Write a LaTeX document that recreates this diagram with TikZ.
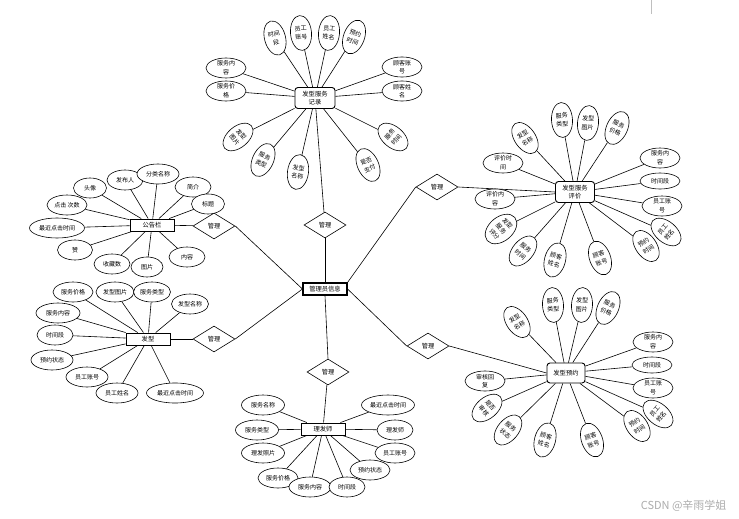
\documentclass[tikz,border=0pt]{standalone}
\usepackage{fontspec}
\setmainfont{Noto Sans CJK SC}
\usetikzlibrary{shapes.geometric,backgrounds}
\newcommand\myatt[5]{\node[#1] (#2) at (#3) {#4};
  \begin{pgfonlayer}{background}\draw[lk] (#2) -- (#5);\end{pgfonlayer}}
\begin{document}
\begin{tikzpicture}[x=1pt,y=-1pt,
  attr/.style={ellipse,draw,fill=white,line width=0.6pt,inner sep=0pt,minimum width=40pt,minimum height=20pt,align=center,font=\fontsize{6}{8.6}\selectfont},
  vatt/.style={attr,minimum width=21pt,minimum height=35pt},
  ent/.style={draw,fill=white,line width=0.9pt,minimum width=44pt,minimum height=12pt,inner sep=0pt,font=\fontsize{6.3}{8.6}\selectfont},
  rent/.style={ent,rounded corners=3pt,minimum width=40pt,minimum height=21pt,align=center},
  rel/.style={diamond,draw,fill=white,line width=0.6pt,minimum width=42pt,minimum height=26pt,inner sep=0pt,font=\fontsize{6.2}{7}\selectfont},
  lk/.style={line width=0.6pt}]
\begin{pgfonlayer}{background}
\fill[white] (0,0) rectangle (739,519);
\end{pgfonlayer}
\useasboundingbox (0,0) rectangle (739,519);
\draw[gray!50,line width=0.4pt] (651,0) -- (651,14);

% centre and relations
\node[ent,line width=1.1pt] (adm) at (325,289) {管理员信息};
\node[rel] (d1) at (325,225) {管理};
\node[rel] (d2) at (214,226) {管理};
\node[rel] (d3) at (214,339) {管理};
\node[rel] (d4) at (437,187) {管理};
\node[rel] (d5) at (428,346) {管理};
\node[rel] (d6) at (328,372) {管理};

% entities
\node[rent] (rec) at (315,98) {发型服务\\记录};
\node[rent,minimum width=39pt] (pj) at (575,192) {发型服务\\评价};
\node[ent] (gg) at (152,225) {公告栏};
\node[ent] (fx) at (148,339) {发型};
\node[ent] (lfs) at (323,429) {理发师};
\node[rent,minimum width=38pt,minimum height=20pt] (yy) at (566,373) {发型预约};

\begin{pgfonlayer}{background}
\draw[lk] (rec) -- (d1);
\draw[lk] (d1.south) -- (adm.north);
\draw[lk] (d2.east) -- (adm.west);
\draw[lk] (d2) -- (gg);
\draw[lk] (d3.east) -- (adm.west);
\draw[lk] (d3) -- (fx);
\draw[lk] (adm.north east) -- (d4.west);
\draw[lk] (d4.east) -- (pj.west);
\draw[lk] (adm.east) -- (d5.west);
\draw[lk] (d5.east) -- (yy.west);
\draw[lk] (adm.south) -- (d6.north);
\draw[lk] (d6) -- (lfs);
\end{pgfonlayer}

% top cluster
\myatt{vatt,rotate=15}{t1}{275,38}{时间\\段}{rec}
\myatt{vatt,rotate=5}{t2}{301,33}{员工\\账号}{rec}
\myatt{vatt,rotate=-5}{t3}{329,33}{员工\\姓名}{rec}
\myatt{vatt,rotate=-20}{t4}{354,37}{预约\\时间}{rec}
\myatt{attr}{t5}{226,68}{服务内\\容}{rec}
\myatt{attr}{t6}{226,91}{服务价\\格}{rec}
\myatt{attr}{t7}{402,67}{顾客账\\号}{rec}
\myatt{attr}{t8}{402,91}{顾客姓\\名}{rec}
\myatt{vatt,rotate=-50}{t9}{238,137}{发型\\图片}{rec}
\myatt{vatt,rotate=-25}{t10}{263,160}{服务\\类型}{rec}
\myatt{vatt,rotate=-8}{t11}{298,172}{发型\\名称}{rec}
\myatt{vatt,rotate=25}{t12}{368,165}{是否\\支付}{rec}
\myatt{vatt,rotate=50}{t13}{393,137}{服务\\时间}{rec}

% right top cluster
\myatt{vatt,rotate=35}{r1}{525,138}{发型\\名称}{pj}
\myatt{vatt,rotate=3}{r2}{562,120}{服务\\类型}{pj}
\myatt{vatt,rotate=-5}{r3}{588,123}{发型\\图片}{pj}
\myatt{vatt,rotate=-25}{r4}{617,128}{服务\\价格}{pj}
\myatt{attr}{r5}{503,163}{评价时\\间}{pj}
\myatt{attr}{r6}{660,158}{服务内\\容}{pj}
\myatt{attr,minimum height=16pt}{r7}{660,181}{时间段}{pj}
\myatt{attr}{r8}{495,199}{评价内\\容}{pj}
\myatt{attr}{r9}{662,206}{员工账\\号}{pj}
\myatt{vatt,rotate=-50,minimum width=24pt,minimum height=36pt}{r10}{501,229}{发型\\服务\\评分}{pj}
\myatt{vatt,rotate=-40}{r11}{523,251}{服务\\时间}{pj}
\myatt{vatt,rotate=-15}{r12}{555,260}{顾客\\姓名}{pj}
\myatt{vatt,rotate=20}{r13}{600,258}{顾客\\账号}{pj}
\myatt{vatt,rotate=35}{r14}{646,246}{预约\\时间}{pj}
\myatt{vatt,rotate=50}{r15}{666,232}{员工\\姓名}{pj}

% left top cluster
\myatt{attr,minimum width=33pt}{g1}{90,188}{头像}{gg}
\myatt{attr,minimum width=36pt}{g2}{125,180}{发布人}{gg}
\myatt{attr,minimum width=42pt}{g3}{158,174}{分类名称}{gg}
\myatt{attr,minimum width=36pt}{g4}{193,187}{简介}{gg}
\myatt{attr}{g5}{67,205}{点击 次数}{gg}
\myatt{attr,minimum width=33pt}{g6}{208,204}{标题}{gg}
\myatt{attr,minimum width=55pt}{g7}{57,228}{最近点击时间}{gg}
\myatt{attr,minimum width=35pt}{g8}{75,250}{赞}{gg}
\myatt{attr,minimum width=36pt}{g9}{112,264}{收藏数}{gg}
\myatt{attr,minimum width=32pt}{g10}{147,267}{图片}{gg}
\myatt{attr,minimum width=36pt}{g11}{187,257}{内容}{gg}

% left bottom cluster
\myatt{attr}{f1}{73,292}{服务价格}{fx}
\myatt{attr,minimum width=38pt}{f2}{115,292}{发型图片}{fx}
\myatt{attr,minimum width=37pt}{f3}{152,292}{服务类型}{fx}
\myatt{attr,minimum width=37pt}{f4}{190,304}{发型名称}{fx}
\myatt{attr,minimum width=44pt}{f5}{58,313}{服务内容}{fx}
\myatt{attr,minimum width=36pt}{f6}{55,335}{时间段}{fx}
\myatt{attr,minimum width=42pt}{f7}{52,360}{预约状态}{fx}
\myatt{attr,minimum width=42pt}{f8}{87,377}{员工账号}{fx}
\myatt{attr,minimum width=42pt}{f9}{117,393}{员工姓名}{fx}
\myatt{attr,minimum width=57pt}{f10}{175,393}{最近点击时间}{fx}

% bottom cluster
\myatt{attr,minimum width=43pt}{b1}{263,405}{服务名称}{lfs}
\myatt{attr,minimum width=43pt}{b2}{257,430}{服务类型}{lfs}
\myatt{attr,minimum width=43pt}{b3}{263,453}{理发照片}{lfs}
\myatt{attr,minimum width=53pt}{b4}{388,405}{最近点击时间}{lfs}
\myatt{attr,minimum width=36pt}{b5}{395,430}{理发师}{lfs}
\myatt{attr}{b6}{395,453}{员工账号}{lfs}
\myatt{attr}{b7}{370,470}{预约状态}{lfs}
\myatt{attr}{b8}{278,478}{服务价格}{lfs}
\myatt{attr,minimum width=42pt}{b9}{310,487}{服务内容}{lfs}
\myatt{attr,minimum width=36pt}{b10}{347,487}{时间段}{lfs}

% right bottom cluster
\myatt{vatt,rotate=35}{y1}{517,322}{发型\\名称}{yy}
\myatt{vatt,rotate=3}{y2}{553,305}{服务\\类型}{yy}
\myatt{vatt,rotate=-3}{y3}{582,305}{发型\\图片}{yy}
\myatt{vatt,rotate=-25}{y4}{608,308}{服务\\价格}{yy}
\myatt{attr}{y5}{653,342}{服务内\\容}{yy}
\myatt{attr,minimum height=16pt}{y6}{652,365}{时间段}{yy}
\myatt{attr}{y7}{653,388}{员工账\\号}{yy}
\myatt{attr}{y8}{485,381}{审核回\\复}{yy}
\myatt{vatt,rotate=-50}{y9}{487,408}{是否\\审核}{yy}
\myatt{vatt,rotate=-40}{y10}{508,430}{服务\\状态}{yy}
\myatt{vatt,rotate=-15}{y11}{545,440}{顾客\\姓名}{yy}
\myatt{vatt,rotate=20}{y12}{592,440}{顾客\\账号}{yy}
\myatt{vatt,rotate=35}{y13}{637,426}{预约\\时间}{yy}
\myatt{vatt,rotate=50}{y14}{658,414}{员工\\姓名}{yy}

\node[text=gray!65,font=\fontsize{11}{12}\selectfont,anchor=east] (wm) at (730,506) {CSDN @辛雨学姐};
\end{tikzpicture}
\end{document}
